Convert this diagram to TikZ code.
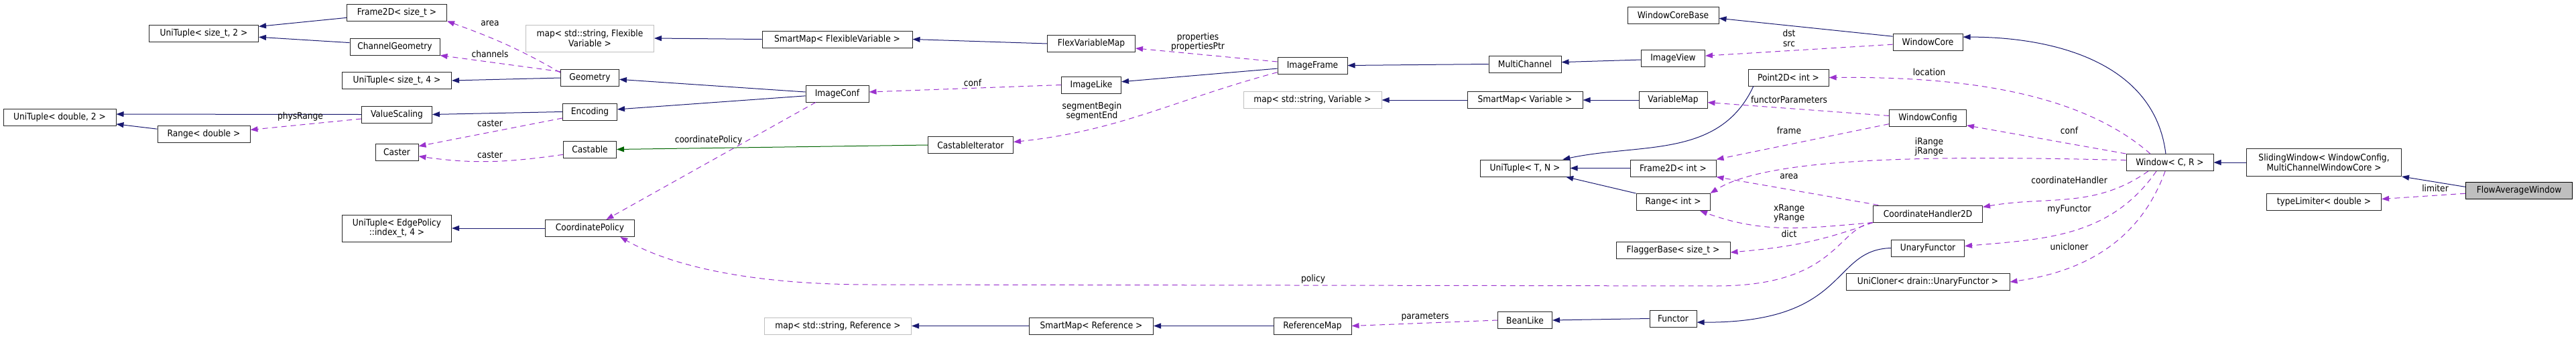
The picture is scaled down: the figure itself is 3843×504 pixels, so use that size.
\documentclass[tikz,border=0pt]{standalone}
\usepackage{fontspec}
\setmainfont{DejaVu Sans}[FakeStretch=0.9]
\usepackage{tikz}
\usetikzlibrary{arrows.meta}
\usetikzlibrary{positioning}

\definecolor{inheritBlue}{HTML}{191970}
\definecolor{usagePurple}{HTML}{9A32CD}
\definecolor{templateGreen}{HTML}{006400}
\definecolor{externGray}{HTML}{BFBFBF}

\begin{document}
\begin{tikzpicture}[
  x=1pt, y=-1pt,
  font=\fontsize{13.6}{14.3}\selectfont,
  edgeLabel/.style={inner sep=0pt, align=center},
  arrowTip/.style={-{Triangle[length=11pt,width=8pt]}}
]
	\tikzstyle{classBox} = [rectangle, minimum height=25pt, inner sep=2pt, align=center, draw=black!85, line width=1pt, fill=white]
	\tikzstyle{externBox} = [classBox, draw=externGray]
	\tikzstyle{mainBox} = [classBox, draw=black, fill=externGray]
	\tikzstyle{inheritEdge} = [draw=inheritBlue, line width=1pt, arrowTip]
	\tikzstyle{usageEdge} = [draw=usagePurple, line width=1pt, dash pattern=on 8pt off 6pt, arrowTip]
	\tikzstyle{templateEdge} = [draw=templateGreen, line width=1pt, arrowTip]

	\useasboundingbox (0,0) rectangle (3843,504);

	% left columns
	\node (uniTupleDouble2) [classBox, minimum width=168pt] at (89,174.5) {UniTuple< double, 2 >};
	\node (uniTupleSize2) [classBox, minimum width=163pt] at (304,49.5) {UniTuple< size\_t, 2 >};
	\node (rangeDouble) [classBox, minimum width=138pt, below of=uniTupleSize2, node distance=150pt] {Range< double >};

	\node (frame2DSize) [classBox, minimum width=149pt] at (592,18.5) {Frame2D< size\_t >};
	\node (channelGeometry) [classBox, minimum width=134pt, below of=frame2DSize, node distance=51pt, xshift=-3pt] {ChannelGeometry};
	\node (uniTupleSize4) [classBox, minimum width=163pt, below of=frame2DSize, node distance=101.5pt] {UniTuple< size\_t, 4 >};
	\node (valueScaling) [classBox, minimum width=105pt, below of=uniTupleSize4, node distance=50.5pt] {ValueScaling};
	\node (caster) [classBox, minimum width=64pt, below of=valueScaling, node distance=56pt] {Caster};
	\node (uniTupleEdge) [classBox, minimum width=163pt, minimum height=40pt, below of=uniTupleSize4, node distance=220pt] {UniTuple< EdgePolicy\\::index\_t, 4 >};

	\node (mapFlexible) [externBox, minimum width=191pt, minimum height=40pt] at (880,57) {map< std::string, Flexible\\Variable >};
	\node (geometry) [classBox, minimum width=87pt, below of=mapFlexible, node distance=59pt] {Geometry};
	\node (encoding) [classBox, minimum width=81pt, below of=geometry, node distance=50.5pt] {Encoding};
	\node (castable) [classBox, minimum width=79pt, below of=encoding, node distance=56pt] {Castable};
	\node (coordinatePolicy) [classBox, minimum width=133pt, below of=castable, node distance=117.5pt] {CoordinatePolicy};

	% middle columns
	\node (smartMapFlexible) [classBox, minimum width=224pt] at (1249,58.5) {SmartMap< FlexibleVariable >};
	\node (imageConf) [classBox, minimum width=94pt, below of=smartMapFlexible, node distance=81pt] {ImageConf};
	\node (mapReference) [externBox, minimum width=219pt] at (1250,485.5) {map< std::string, Reference >};
	\node (castableIterator) [classBox, minimum width=127pt] at (1448,216) {CastableIterator};

	\node (flexVariableMap) [classBox, minimum width=131pt] at (1628,65) {FlexVariableMap};
	\node (imageLike) [classBox, minimum width=89pt, below of=flexVariableMap, node distance=61.5pt] {ImageLike};
	\node (smartMapReference) [classBox, minimum width=185pt, right of=mapReference, node distance=378pt] {SmartMap< Reference >};

	\node (imageFrame) [classBox, minimum width=104pt] at (1958,97.5) {ImageFrame};
	\node (mapVariable) [externBox, minimum width=206pt, below of=imageFrame, node distance=51.5pt] {map< std::string, Variable >};
	\node (referenceMap) [classBox, minimum width=116pt, right of=smartMapReference, node distance=330pt] {ReferenceMap};

	\node (multiChannel) [classBox, minimum width=108pt] at (2275,95.5) {MultiChannel};
	\node (smartMapVariable) [classBox, minimum width=172pt, right of=mapVariable, node distance=317pt] {SmartMap< Variable >};
	\node (uniTupleTN) [classBox, minimum width=134pt, below of=smartMapVariable, node distance=101.5pt] {UniTuple< T, N >};
	\node (beanLike) [classBox, minimum width=81pt] at (2275,477) {BeanLike};

	\node (windowCoreBase) [classBox, minimum width=136pt] at (2496,22.5) {WindowCoreBase};
	\node (imageView) [classBox, minimum width=95pt, below of=windowCoreBase, node distance=64pt] {ImageView};
	\node (variableMap) [classBox, minimum width=102pt, right of=smartMapVariable, node distance=221pt] {VariableMap};
	\node (frame2DInt) [classBox, minimum width=128pt, right of=uniTupleTN, node distance=221pt] {Frame2D< int >};
	\node (rangeInt) [classBox, minimum width=110pt, below of=frame2DInt, node distance=50.5pt] {Range< int >};
	\node (flaggerBase) [classBox, minimum width=170pt, below of=rangeInt, node distance=72pt] {FlaggerBase< size\_t >};
	\node (functor) [classBox, minimum width=70pt] at (2496,474.5) {Functor};
	\node (point2DInt) [classBox, minimum width=120pt] at (2668,115.5) {Point2D< int >};

	% right columns
	\node (windowCore) [classBox, minimum width=104pt] at (2876,62.5) {WindowCore};
	\node (windowConfig) [classBox, minimum width=115pt, below of=windowCore, node distance=113pt] {WindowConfig};
	\node (coordinateHandler) [classBox, minimum width=163pt, below of=windowConfig, node distance=143pt] {CoordinateHandler2D};
	\node (unaryFunctor) [classBox, minimum width=109pt, below of=coordinateHandler, node distance=51pt] {UnaryFunctor};
	\node (uniCloner) [classBox, minimum width=244pt, below of=unaryFunctor, node distance=50.5pt] {UniCloner< drain::UnaryFunctor >};

	\node (windowCR) [classBox, minimum width=130pt] at (3237,242) {Window< C, R >};
	\node (slidingWindow) [classBox, minimum width=231pt, minimum height=41pt, right of=windowCR, node distance=230pt] {SlidingWindow< WindowConfig,\\MultiChannelWindowCore >};
	\node (typeLimiter) [classBox, minimum width=171pt] at (3467,301) {typeLimiter< double >};
	\node (flowAverageWindow) [mainBox, minimum width=159pt] at (3758,284) {FlowAverageWindow};

	% inheritance
	\draw[inheritEdge] (frame2DSize.186) -- (uniTupleSize2.7);
	\draw[inheritEdge] (channelGeometry.175) -- (uniTupleSize2.-4);
	\draw[inheritEdge] (geometry.west) -- (uniTupleSize4.east);
	\draw[inheritEdge] (valueScaling.west) -- (uniTupleDouble2.3);
	\draw[inheritEdge] (rangeDouble.174) -- (uniTupleDouble2.-7);
	\draw[inheritEdge] (encoding.west) -- (valueScaling.east);
	\draw[inheritEdge] (imageConf.177) -- (geometry.-3);
	\draw[inheritEdge] (imageConf.184) -- (encoding.5);
	\draw[inheritEdge] (coordinatePolicy.west) -- (uniTupleEdge.east);
	\draw[inheritEdge] (smartMapFlexible.west) -- (mapFlexible.east);
	\draw[inheritEdge] (flexVariableMap.west) -- (smartMapFlexible.east);
	\draw[inheritEdge] (imageFrame.185) -- (imageLike.6);
	\draw[inheritEdge] (multiChannel.west) -- (imageFrame.east);
	\draw[inheritEdge] (imageView.183) -- (multiChannel.3);
	\draw[inheritEdge] (smartMapVariable.west) -- (mapVariable.east);
	\draw[inheritEdge] (variableMap.west) -- (smartMapVariable.east);
	\draw[inheritEdge] (windowCore.171) -- (windowCoreBase.-4);
	\draw[inheritEdge] (point2DInt.194) to[out=245,in=12] (uniTupleTN.13);
	\draw[inheritEdge] (frame2DInt.west) -- (uniTupleTN.east);
	\draw[inheritEdge] (rangeInt.north west) -- (uniTupleTN.-12);
	\draw[inheritEdge] (windowCR.115) to[out=97,in=0] (windowCore.8);
	\draw[inheritEdge] (unaryFunctor.west) .. controls (2730,372) and (2760,481) .. (functor.-9);
	\draw[inheritEdge] (functor.west) -- (beanLike.east);
	\draw[inheritEdge] (referenceMap.west) -- (smartMapReference.east);
	\draw[inheritEdge] (smartMapReference.west) -- (mapReference.east);
	\draw[inheritEdge] (slidingWindow.west) -- (windowCR.east);
	\draw[inheritEdge] (flowAverageWindow.176) -- (slidingWindow.south east);

	% template instance
	\draw[templateEdge] (castableIterator.west) -- (castable.east);

	% usage
	\draw[usageEdge] (geometry.170) to[out=150,in=-20] (frame2DSize.south east);
	\draw[usageEdge] (geometry.168) -- (channelGeometry.south east);
	\draw[usageEdge] (valueScaling.187) -- (rangeDouble.5);
	\draw[usageEdge] (encoding.193) -- (caster.15);
	\draw[usageEdge] (castable.191) to[out=188,in=-8] (caster.-11);
	\draw[usageEdge] (imageConf.202) -- (coordinatePolicy.28);
	\draw[usageEdge] (imageFrame.174) -- (flexVariableMap.-6);
	\draw[usageEdge] (imageLike.west) -- (imageConf.3);
	\draw[usageEdge] (imageFrame.191) to[out=195,in=6] (castableIterator.4);
	\draw[usageEdge] (windowCore.184) -- (imageView.4);
	\draw[usageEdge] (windowConfig.177) -- (variableMap.-4);
	\draw[usageEdge] (windowConfig.189) -- (frame2DInt.north east);
	\draw[usageEdge] (windowCR.156) .. controls (3100,135) and (2920,114) .. (point2DInt.east);
	\draw[usageEdge] (windowCR.north west) -- (windowConfig.-11);
	\draw[usageEdge] (windowCR.177) .. controls (2900,232) and (2640,232) .. (rangeInt.north east);
	\draw[usageEdge] (coordinateHandler.170) -- (frame2DInt.south east);
	\draw[usageEdge] (coordinateHandler.south west) to[out=185,in=-20] (rangeInt.-18);
	\draw[usageEdge] (coordinateHandler.south west) to[out=200,in=5] (flaggerBase.-2);
	\draw[usageEdge] (coordinateHandler.south west) .. controls (2740,340) and (2740,426) .. (2560,426) -- (1300,424) .. controls (1100,424) and (990,390) .. (coordinatePolicy.-16);
	\draw[usageEdge] (windowCR.202) to[out=215,in=10] (coordinateHandler.7);
	\draw[usageEdge] (windowCR.213) to[out=235,in=5] (unaryFunctor.3);
	\draw[usageEdge] (windowCR.242) to[out=250,in=8] (uniCloner.east);
	\draw[usageEdge] (beanLike.west) -- (referenceMap.east);
	\draw[usageEdge] (flowAverageWindow.183) -- (typeLimiter.3);

	% edge labels
	\node (lblArea) [edgeLabel] at (731,35) {area};
	\node (lblChannels) [edgeLabel] at (731,80) {channels};
	\node (lblPhysRange) [edgeLabel] at (448,174) {physRange};
	\node (lblCasterA) [edgeLabel] at (731,184) {caster};
	\node (lblCasterB) [edgeLabel] at (731,231) {caster};
	\node (lblCoordinatePolicy) [edgeLabel] at (1057,209) {coordinatePolicy};
	\node (lblConfA) [edgeLabel] at (1451,123) {conf};
	\node (lblProperties) [edgeLabel] at (1787,63) {properties\\propertiesPtr};
	\node (lblSegment) [edgeLabel] at (1629,166) {segmentBegin\\segmentEnd};
	\node (lblPolicy) [edgeLabel] at (1959,416) {policy};
	\node (lblParameters) [edgeLabel] at (2126,472) {parameters};
	\node (lblDstSrc) [edgeLabel] at (2669,57) {dst\\src};
	\node (lblLocation) [edgeLabel] at (2878,107) {location};
	\node (lblFunctorParameters) [edgeLabel] at (2669,148) {functorParameters};
	\node (lblFrame) [edgeLabel] at (2669,194) {frame};
	\node (lblConfB) [edgeLabel] at (3087,194) {conf};
	\node (lblIRange) [edgeLabel] at (2878,219) {iRange\\jRange};
	\node (lblAreaB) [edgeLabel] at (2669,263) {area};
	\node (lblCoordinateHandler) [edgeLabel] at (3087,268) {coordinateHandler};
	\node (lblXRange) [edgeLabel] at (2669,318) {xRange\\yRange};
	\node (lblDict) [edgeLabel] at (2669,348) {dict};
	\node (lblMyFunctor) [edgeLabel] at (3087,312) {myFunctor};
	\node (lblUnicloner) [edgeLabel] at (3087,367) {unicloner};
	\node (lblLimiter) [edgeLabel] at (3633,280) {limiter};

\end{tikzpicture}
\end{document}
